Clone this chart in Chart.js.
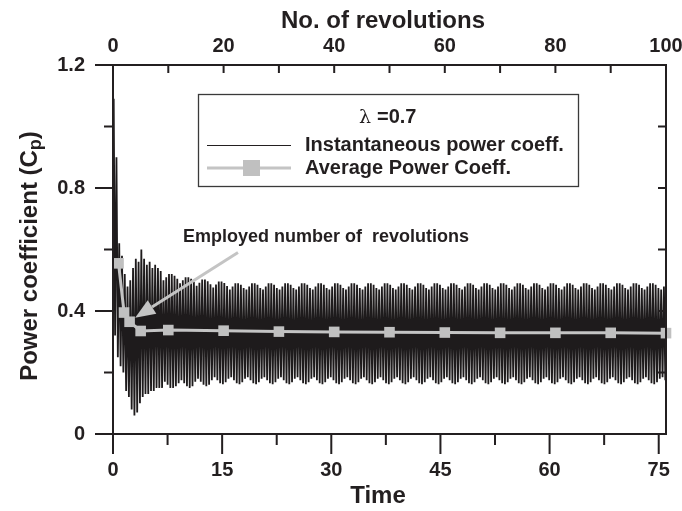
<!DOCTYPE html>
<html>
<head>
<meta charset="utf-8">
<script src="https://cdn.jsdelivr.net/npm/chart.js@4.4.0/dist/chart.umd.min.js"></script>
<style>
  html, body { margin: 0; padding: 0; background: #fff; }
  #wrap { width: 682px; height: 511px; }
</style>
</head>
<body>
<div id="wrap"><canvas id="cpChart" width="682" height="511"></canvas></div>
<script>
// averaged Cp after a given number of revolutions
const avgRevs = [1, 2, 3, 5, 10, 20, 30, 40, 50, 60, 70, 80, 90, 100];
const avgCp = [0.555, 0.395, 0.365, 0.335, 0.338, 0.336, 0.333, 0.332, 0.331, 0.330, 0.329, 0.329, 0.329, 0.328];

// instantaneous Cp, one peak and one trough per blade pass (2 per revolution)
const cyclesPerRev = 2;
const instPeaks = [
  1.09, 0.90, 0.62, 0.58, 0.52, 0.48,
  0.50, 0.54, 0.57, 0.56, 0.60, 0.57,
  0.55, 0.56, 0.54, 0.55, 0.54, 0.53,
  0.50, 0.51, 0.52, 0.52, 0.515, 0.505,
  0.49, 0.50, 0.51, 0.51, 0.505, 0.495,
  0.482, 0.492, 0.502, 0.502, 0.497, 0.487,
  0.476, 0.486, 0.496, 0.496, 0.491, 0.481,
  0.47, 0.48, 0.49, 0.49, 0.485, 0.475,
  0.47, 0.48, 0.49, 0.49, 0.485, 0.475,
  0.47, 0.48, 0.49, 0.49, 0.485, 0.475,
  0.47, 0.48, 0.49, 0.49, 0.485, 0.475,
  0.47, 0.48, 0.49, 0.49, 0.485, 0.475,
  0.47, 0.48, 0.49, 0.49, 0.485, 0.475,
  0.47, 0.48, 0.49, 0.49, 0.485, 0.475,
  0.47, 0.48, 0.49, 0.49, 0.485, 0.475,
  0.47, 0.48, 0.49, 0.49, 0.485, 0.475,
  0.47, 0.48, 0.49, 0.49, 0.485, 0.475,
  0.47, 0.48, 0.49, 0.49, 0.485, 0.475,
  0.47, 0.48, 0.49, 0.49, 0.485, 0.475,
  0.47, 0.48, 0.49, 0.49, 0.485, 0.475,
  0.47, 0.48, 0.49, 0.49, 0.485, 0.475,
  0.47, 0.48, 0.49, 0.49, 0.485, 0.475,
  0.47, 0.48, 0.49, 0.49, 0.485, 0.475,
  0.47, 0.48, 0.49, 0.49, 0.485, 0.475,
  0.47, 0.48, 0.49, 0.49, 0.485, 0.475,
  0.47, 0.48, 0.49, 0.49, 0.485, 0.475,
  0.47, 0.48, 0.49, 0.49, 0.485, 0.475,
  0.47, 0.48, 0.49, 0.49, 0.485, 0.475,
  0.47, 0.48, 0.49, 0.49, 0.485, 0.475,
  0.47, 0.48, 0.49, 0.49, 0.485, 0.475,
  0.47, 0.48, 0.49, 0.49, 0.485, 0.475,
  0.47, 0.48, 0.49, 0.49, 0.485, 0.475,
  0.47, 0.48, 0.49, 0.49, 0.485, 0.475,
  0.47, 0.48
];
const instTroughs = [
  0.32, 0.25, 0.22, 0.20, 0.14, 0.12,
  0.08, 0.06, 0.07, 0.10, 0.12, 0.13,
  0.13, 0.14, 0.14, 0.15, 0.15, 0.15,
  0.17, 0.16, 0.15, 0.15, 0.155, 0.165,
  0.175, 0.165, 0.155, 0.15, 0.155, 0.17,
  0.18, 0.17, 0.16, 0.155, 0.16, 0.175,
  0.185, 0.175, 0.165, 0.162, 0.168, 0.18,
  0.185, 0.175, 0.165, 0.162, 0.168, 0.18,
  0.185, 0.175, 0.165, 0.162, 0.168, 0.18,
  0.185, 0.175, 0.165, 0.162, 0.168, 0.18,
  0.185, 0.175, 0.165, 0.162, 0.168, 0.18,
  0.185, 0.175, 0.165, 0.162, 0.168, 0.18,
  0.185, 0.175, 0.165, 0.162, 0.168, 0.18,
  0.185, 0.175, 0.165, 0.162, 0.168, 0.18,
  0.185, 0.175, 0.165, 0.162, 0.168, 0.18,
  0.185, 0.175, 0.165, 0.162, 0.168, 0.18,
  0.185, 0.175, 0.165, 0.162, 0.168, 0.18,
  0.185, 0.175, 0.165, 0.162, 0.168, 0.18,
  0.185, 0.175, 0.165, 0.162, 0.168, 0.18,
  0.185, 0.175, 0.165, 0.162, 0.168, 0.18,
  0.185, 0.175, 0.165, 0.162, 0.168, 0.18,
  0.185, 0.175, 0.165, 0.162, 0.168, 0.18,
  0.185, 0.175, 0.165, 0.162, 0.168, 0.18,
  0.185, 0.175, 0.165, 0.162, 0.168, 0.18,
  0.185, 0.175, 0.165, 0.162, 0.168, 0.18,
  0.185, 0.175, 0.165, 0.162, 0.168, 0.18,
  0.185, 0.175, 0.165, 0.162, 0.168, 0.18,
  0.185, 0.175, 0.165, 0.162, 0.168, 0.18,
  0.185, 0.175, 0.165, 0.162, 0.168, 0.18,
  0.185, 0.175, 0.165, 0.162, 0.168, 0.18,
  0.185, 0.175, 0.165, 0.162, 0.168, 0.18,
  0.185, 0.175, 0.165, 0.162, 0.168, 0.18,
  0.185, 0.175, 0.165, 0.162, 0.168, 0.18,
  0.185, 0.175
];

const timeTicks = [0, 15, 30, 45, 60, 75];
const revTicks = [0, 20, 40, 60, 80, 100];
const cpTicks = [0, 0.4, 0.8, 1.2];

const FONT = '"Liberation Sans", Arial, Helvetica, sans-serif';
const INK = '#231f20';
const GREY = '#c4c4c4';

// arrow of the annotation, in (revolutions, Cp)
const arrowFrom = { x: 22.6, y: 0.59 };
const arrowTo = { x: 4.0, y: 0.378 };

const avgPoints = avgRevs.map((r, i) => ({ x: r, y: avgCp[i] }));
const instPoints = [];
instPeaks.forEach((p, i) => {
  const r0 = i / cyclesPerRev;
  instPoints.push({ x: r0 + 0.25 / cyclesPerRev, y: p });
  instPoints.push({ x: r0 + 0.75 / cyclesPerRev, y: instTroughs[i] });
});

function setTicks(list) {
  return scale => { scale.ticks = list.map(v => ({ value: v })); };
}

// frame, minor ticks, titles, legend and annotation
const decorPlugin = {
  id: 'decor',
  afterDatasetsDraw(chart) {
    const { ctx, chartArea: a, scales } = chart;
    const y = scales.y, t = scales.time, r = scales.rev;
    ctx.save();
    ctx.strokeStyle = INK;
    ctx.lineWidth = 2;
    ctx.strokeRect(a.left, a.top, a.right - a.left, a.bottom - a.top);

    ctx.beginPath();
    for (let i = 0; i <= 6; i++) {
      const py = y.getPixelForValue(i * 0.2);
      const len = i % 2 === 0 ? 18 : 9;
      ctx.moveTo(a.left - len, py); ctx.lineTo(a.left, py);
      if (i > 0 && i < 6) { ctx.moveTo(a.right, py); ctx.lineTo(a.right - 8, py); }
    }
    for (let i = 0; i <= 10; i++) {
      const px = t.getPixelForValue(i * 7.5);
      const len = i % 2 === 0 ? 20 : 11;
      ctx.moveTo(px, a.bottom); ctx.lineTo(px, a.bottom + len);
    }
    for (let i = 1; i < 10; i++) {
      const px = r.getPixelForValue(i * 10);
      ctx.moveTo(px, a.top); ctx.lineTo(px, a.top + 8);
    }
    ctx.stroke();
    ctx.restore();
  },
  afterDraw(chart) {
    const { ctx, scales } = chart;
    const r = scales.rev, y = scales.y;
    ctx.save();
    ctx.fillStyle = INK;
    ctx.textBaseline = 'alphabetic';

    // axis titles
    ctx.font = 'bold 24px ' + FONT;
    ctx.textAlign = 'center';
    ctx.fillText('No. of revolutions', 383, 28);
    ctx.fillText('Time', 378, 503);

    // y title with subscript p
    ctx.save();
    ctx.translate(37, 256);
    ctx.rotate(-Math.PI / 2);
    ctx.textAlign = 'left';
    const main = 'Power coefficient (C';
    ctx.font = 'bold 24px ' + FONT;
    const w1 = ctx.measureText(main).width;
    const w3 = ctx.measureText(')').width;
    ctx.font = 'bold 18px ' + FONT;
    const w2 = ctx.measureText('p').width;
    let x0 = -(w1 + w2 + w3) / 2;
    ctx.font = 'bold 24px ' + FONT;
    ctx.fillText(main, x0, 0);
    ctx.font = 'bold 18px ' + FONT;
    ctx.fillText('p', x0 + w1, 4);
    ctx.font = 'bold 24px ' + FONT;
    ctx.fillText(')', x0 + w1 + w2, 0);
    ctx.restore();

    // legend box
    ctx.fillStyle = '#fff';
    ctx.fillRect(198, 94, 380, 92);
    ctx.strokeStyle = '#3a3a3a';
    ctx.lineWidth = 1.3;
    ctx.strokeRect(198.5, 94.5, 380, 92);
    ctx.fillStyle = INK;
    ctx.textAlign = 'left';
    ctx.textBaseline = 'middle';
    ctx.font = '19px "DejaVu Serif", serif';
    ctx.fillText('\u03bb', 359, 118);
    ctx.font = 'bold 20px ' + FONT;
    ctx.fillText('=0.7', 377, 117);
    ctx.fillText('Instantaneous power coeff.', 305, 145);
    ctx.fillText('Average Power Coeff.', 305, 168);
    ctx.strokeStyle = INK;
    ctx.lineWidth = 1;
    ctx.beginPath(); ctx.moveTo(207, 145.5); ctx.lineTo(291, 145.5); ctx.stroke();
    ctx.strokeStyle = GREY;
    ctx.lineWidth = 3;
    ctx.beginPath(); ctx.moveTo(207, 168); ctx.lineTo(291, 168); ctx.stroke();
    ctx.fillStyle = '#c0c0c0';
    ctx.fillRect(243, 160, 17, 16);

    // annotation
    ctx.fillStyle = INK;
    ctx.font = 'bold 18px ' + FONT;
    ctx.fillText('Employed number of  revolutions', 183, 237);
    const x1 = r.getPixelForValue(arrowFrom.x), y1 = y.getPixelForValue(arrowFrom.y);
    const x2 = r.getPixelForValue(arrowTo.x), y2 = y.getPixelForValue(arrowTo.y);
    const ang = Math.atan2(y2 - y1, x2 - x1);
    const head = 20, half = 8;
    const bx = x2 - head * Math.cos(ang), by = y2 - head * Math.sin(ang);
    ctx.strokeStyle = GREY;
    ctx.lineWidth = 3;
    ctx.beginPath(); ctx.moveTo(x1, y1); ctx.lineTo(bx, by); ctx.stroke();
    ctx.fillStyle = GREY;
    ctx.beginPath();
    ctx.moveTo(x2, y2);
    ctx.lineTo(bx + half * Math.sin(ang), by - half * Math.cos(ang));
    ctx.lineTo(bx - half * Math.sin(ang), by + half * Math.cos(ang));
    ctx.closePath();
    ctx.fill();
    ctx.restore();
  }
};

const tickFont = { family: FONT, size: 20, weight: 'bold' };

new Chart(document.getElementById('cpChart'), {
  type: 'line',
  data: {
    datasets: [
      {
        label: 'Average Power Coeff.',
        data: avgPoints,
        xAxisID: 'rev',
        yAxisID: 'y',
        borderColor: GREY,
        borderWidth: 3,
        pointStyle: 'rect',
        pointRadius: 7.5,
        pointBackgroundColor: '#c0c0c0',
        pointBorderWidth: 0,
        clip: false,
        order: 0
      },
      {
        label: 'Instantaneous power coeff.',
        data: instPoints,
        xAxisID: 'rev',
        yAxisID: 'y',
        borderColor: '#1e1b1c',
        borderWidth: 1.8,
        pointRadius: 0,
        tension: 0,
        order: 1
      }
    ]
  },
  options: {
    responsive: false,
    animation: false,
    events: [],
    parsing: false,
    layout: { padding: { left: 0, right: 16, top: 0, bottom: 0 } },
    plugins: { legend: { display: false }, tooltip: { enabled: false } },
    scales: {
      rev: {
        type: 'linear',
        position: 'top',
        min: 0,
        max: 100,
        afterBuildTicks: setTicks(revTicks),
        afterFit: s => { s.height = 65; s.paddingLeft = 0; s.paddingRight = 0; },
        grid: { display: false, drawTicks: false },
        border: { display: false },
        ticks: { font: tickFont, color: INK, padding: 7, autoSkip: false, maxRotation: 0, callback: v => String(v) }
      },
      time: {
        type: 'linear',
        position: 'bottom',
        min: 0,
        max: 76,
        afterBuildTicks: setTicks(timeTicks),
        afterFit: s => { s.height = 77; s.paddingLeft = 0; s.paddingRight = 0; },
        grid: { display: false, drawTicks: false },
        border: { display: false },
        ticks: { font: tickFont, color: INK, padding: 24, autoSkip: false, maxRotation: 0, callback: v => String(v) }
      },
      y: {
        type: 'linear',
        position: 'left',
        min: 0,
        max: 1.2,
        afterBuildTicks: setTicks(cpTicks),
        afterFit: s => { s.width = 113; s.paddingTop = 0; s.paddingBottom = 0; },
        grid: { display: false, drawTicks: false },
        border: { display: false },
        ticks: { font: tickFont, color: INK, padding: 28, callback: v => (v === 0 ? '0' : v.toFixed(1)) }
      }
    }
  },
  plugins: [decorPlugin]
});
</script>
</body>
</html>
